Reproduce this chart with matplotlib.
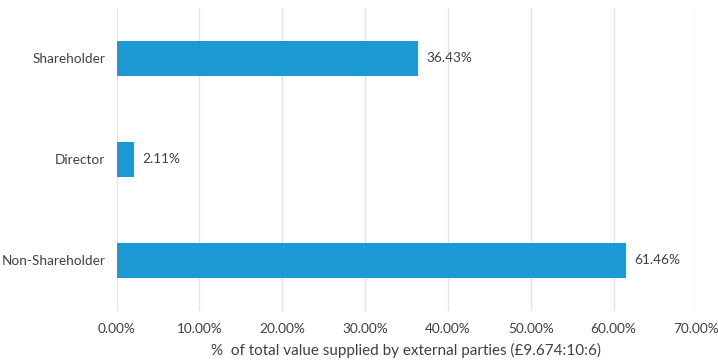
import matplotlib.pyplot as plt
from matplotlib.ticker import FuncFormatter

categories = ['Shareholder', 'Director', 'Non-Shareholder']
shares = [36.43, 2.11, 61.46]
xticks = [0, 10, 20, 30, 40, 50, 60, 70]

bar_color = '#1b9ad6'
text_color = '#404040'

plt.rcParams['font.family'] = ['Lato', 'DejaVu Sans']

fig = plt.figure(figsize=(7.18, 3.62), dpi=100)
ax = fig.add_axes([0.1623, 0.1409, 0.8077, 0.8370])

pos = list(range(len(categories)))
ax.barh(pos, shares, height=0.35, color=bar_color, zorder=2)
for y, v in zip(pos, shares):
    ax.text(v + 1.0, y, f'{v:.2f}%', va='center', ha='left',
            fontsize=9.8, color=text_color)

ax.set_ylim(2.5, -0.5)
ax.set_xlim(0, 70)
ax.set_yticks(pos)
ax.set_yticklabels(categories)
ax.set_xticks(xticks)
ax.xaxis.set_major_formatter(FuncFormatter(lambda x, _: f'{x:.2f}%'))
ax.tick_params(axis='both', length=0, labelsize=9.8, colors=text_color)
ax.tick_params(axis='x', pad=9)
ax.tick_params(axis='y', pad=8)

ax.grid(axis='x', color='#e3e3e3', linewidth=1.0, zorder=0)
for s in ax.spines.values():
    s.set_visible(False)

ax.set_xlabel('%  of total value supplied by external parties (£9.674:10:6)',
              fontsize=11, color=text_color, labelpad=5)

fig.savefig('out.png', dpi=100)
